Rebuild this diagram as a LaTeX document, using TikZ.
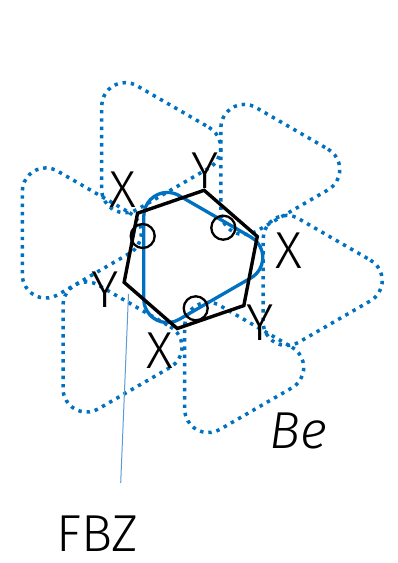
\documentclass[tikz,border=0pt]{standalone}
\usepackage{fontspec}
\setmainfont{Fira Sans Light}[ItalicFont={Fira Sans Light Italic}]
\usetikzlibrary{calc}
\definecolor{fsblue}{HTML}{0070C0}
\definecolor{leadblue}{HTML}{5B9BD5}
\tikzset{
  lab/.style={inner sep=0pt, font=\fontsize{52}{52}\selectfont, text=black},
  dotshape/.style={draw=fsblue, line width=3.5pt, dash pattern=on 3.4pt off 4.9pt},
  solidshape/.style={draw=fsblue, line width=3.3pt, line join=round},
  hexline/.style={draw=black, line width=3.4pt, line join=miter},
  ring/.style={draw=black, line width=2.3pt},
  leader/.style={draw=leadblue, line width=1pt},
  rtri/.pic={
    \path[pic actions] (59.75,-20.35) arc[start angle=-60, end angle=60, radius=23.5]
      -- (-12.25,61.92) arc[start angle=60, end angle=180, radius=23.5]
      -- (-47.5,-41.57) arc[start angle=180, end angle=300, radius=23.5]
      -- cycle;
  }
}
\begin{document}
\begin{tikzpicture}[x=1pt, y=-1pt]
\useasboundingbox (0,0) rectangle (398,563);
% lattice centres
\coordinate (o) at (191.3,257.5);
\coordinate (ca) at (149.2,147.7);
\coordinate (cb) at (268.3,169.5);
\coordinate (cc) at (310.7,280.5);
\coordinate (cd) at (232.2,367.5);
\coordinate (ce) at (110.5,347);
\coordinate (cf) at (69.8,233);
% dotted neighbours
\foreach \c in {ca,cb,cc,cd,ce,cf} {
  \pic[dotshape] at (\c) {rtri};
}
% solid pocket
\pic[solidshape] at (o) {rtri};
% first Brillouin zone
\coordinate (hc) at (190.7,259.4);
\foreach \i/\a in {1/41,2/101,3/161,4/221,5/281,6/341} {
  \coordinate (h\i) at ($(hc)+(\a:70.4)$);
}
\draw[hexline] (h1) -- (h2) -- (h3) -- (h4) -- (h5) -- (h6) -- cycle;
% small rings
\draw[ring] (223.3,227.7) circle[radius=12];
\draw[ring] (142.7,236) circle[radius=12];
\draw[ring] (195.7,308.3) circle[radius=12];
% labels
\node[lab] (x1) at (122.5,190) {X};
\node[lab] (y1) at (205,170.5) {Y};
\node[lab] (x2) at (289,250.5) {X};
\node[lab] (y2) at (260,322.5) {Y};
\node[lab] (x3) at (160,350.5) {X};
\node[lab] (y3) at (105,289.5) {Y};
\node[lab] (be) at (298.5,430.5) {\itshape Be};
\node[lab] (fbz) at (97.5,534) {FBZ};
% leader
\coordinate (fbztip) at (128.5,294);
\coordinate (fbzend) at (120.7,483);
\draw[leader] (fbztip) -- (fbzend);
\end{tikzpicture}
\end{document}
